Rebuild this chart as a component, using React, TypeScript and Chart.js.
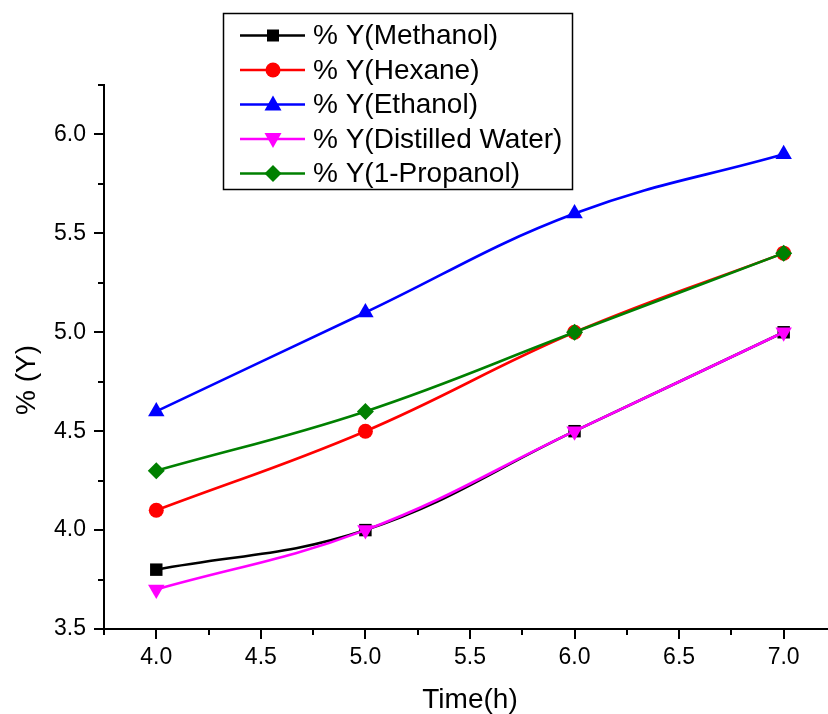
import React, { useEffect, useRef } from "react";
import { Chart, registerables } from "chart.js";

Chart.register(...registerables);

const timeH = [4.0, 5.0, 6.0, 7.0];
const methanol = [3.8, 4.0, 4.5, 5.0];
const hexane = [4.1, 4.5, 5.0, 5.4];
const ethanol = [4.6, 5.1, 5.6, 5.9];
const distilledWater = [3.7, 4.0, 4.5, 5.0];
const propanol = [4.3, 4.6, 5.0, 5.4];

const xTickLabels = [4.0, 4.5, 5.0, 5.5, 6.0, 6.5, 7.0];
const yTickLabels = [3.5, 4.0, 4.5, 5.0, 5.5, 6.0];

const seriesLabels = [
  "% Y(Methanol)",
  "% Y(Hexane)",
  "% Y(Ethanol)",
  "% Y(Distilled Water)",
  "% Y(1-Propanol)",
];
const seriesColors = ["#000000", "#ff0000", "#0000ff", "#ff00ff", "#008000"];
const seriesShapes = ["square", "circle", "triangle", "triangleDown", "diamond"];
const seriesValues = [methanol, hexane, ethanol, distilledWater, propanol];

const xTitle = "Time(h)";
const yTitle = "% (Y)";
const FONT = "Arial, 'Liberation Sans', sans-serif";

function shapeToStyle(s: string) {
  switch (s) {
    case "square":
      return { pointStyle: "rect", radius: 8.8, rotation: 0 };
    case "circle":
      return { pointStyle: "circle", radius: 7.5, rotation: 0 };
    case "triangle":
      return { pointStyle: "triangle", radius: 9.5, rotation: 0 };
    case "triangleDown":
      return { pointStyle: "triangle", radius: 9.5, rotation: 180 };
    default:
      return { pointStyle: "rectRot", radius: 8.5, rotation: 0 };
  }
}

function drawMarker(ctx: CanvasRenderingContext2D, shape: string, x: number, y: number, color: string) {
  ctx.save();
  ctx.fillStyle = color;
  ctx.beginPath();
  if (shape === "square") {
    ctx.rect(x - 6, y - 6, 12, 12);
  } else if (shape === "circle") {
    ctx.arc(x, y, 7.5, 0, Math.PI * 2);
  } else if (shape === "triangle") {
    ctx.moveTo(x, y - 9);
    ctx.lineTo(x + 8.5, y + 6);
    ctx.lineTo(x - 8.5, y + 6);
  } else if (shape === "triangleDown") {
    ctx.moveTo(x, y + 9);
    ctx.lineTo(x + 8.5, y - 6);
    ctx.lineTo(x - 8.5, y - 6);
  } else {
    ctx.moveTo(x, y - 8.5);
    ctx.lineTo(x + 8.5, y);
    ctx.lineTo(x, y + 8.5);
    ctx.lineTo(x - 8.5, y);
  }
  ctx.closePath();
  ctx.fill();
  ctx.restore();
}

const decorPlugin = {
  id: "decor",
  afterDraw(chart: any) {
    const ctx: CanvasRenderingContext2D = chart.ctx;
    const xs = chart.scales.x;
    const ys = chart.scales.y;
    const area = chart.chartArea;
    ctx.save();
    ctx.strokeStyle = "#000";
    ctx.lineWidth = 2;
    // y ticks
    for (let v = ys.min; v <= ys.max + 1e-6; v += 0.25) {
      const p = Math.round(ys.getPixelForValue(v));
      const major = Math.abs(v * 2 - Math.round(v * 2)) < 1e-6;
      ctx.beginPath();
      ctx.moveTo(area.left, p);
      ctx.lineTo(area.left - (major ? 10 : 6), p);
      ctx.stroke();
    }
    // x ticks
    for (let v = 3.75; v <= xs.max + 1e-6; v += 0.25) {
      const p = Math.round(xs.getPixelForValue(v));
      const major = Math.abs(v * 2 - Math.round(v * 2)) < 1e-6;
      ctx.beginPath();
      ctx.moveTo(p, area.bottom);
      ctx.lineTo(p, area.bottom + (major ? 10 : 6));
      ctx.stroke();
    }
    // x tick labels
    ctx.fillStyle = "#000";
    ctx.font = `23px ${FONT}`;
    ctx.textAlign = "center";
    ctx.textBaseline = "top";
    for (const v of xTickLabels) {
      ctx.fillText(v.toFixed(1), xs.getPixelForValue(v), area.bottom + 17);
    }
    // axis titles
    ctx.font = `28px ${FONT}`;
    ctx.textAlign = "center";
    ctx.textBaseline = "middle";
    ctx.fillText(xTitle, 470, 700);
    ctx.save();
    ctx.translate(27, 380);
    ctx.rotate(-Math.PI / 2);
    ctx.fillText(yTitle, 0, 0);
    ctx.restore();

    // legend
    ctx.fillStyle = "#fff";
    ctx.fillRect(223.5, 13.5, 349, 176);
    ctx.lineWidth = 1.5;
    ctx.strokeStyle = "#000";
    ctx.strokeRect(223.5, 13.5, 349, 176);
    const rowY = [35.5, 70, 104.5, 139, 173.5];
    ctx.font = `28px ${FONT}`;
    ctx.textAlign = "left";
    for (let i = 0; i < seriesLabels.length; i++) {
      const y = rowY[i];
      ctx.strokeStyle = seriesColors[i];
      ctx.lineWidth = 2.5;
      ctx.beginPath();
      ctx.moveTo(240, y);
      ctx.lineTo(305, y);
      ctx.stroke();
      drawMarker(ctx, seriesShapes[i], 273, y, seriesColors[i]);
      ctx.fillStyle = "#000";
      ctx.fillText(seriesLabels[i], 313, y + 1);
    }
    ctx.restore();
  },
};

export default function App() {
  const ref = useRef<HTMLCanvasElement | null>(null);
  useEffect(() => {
    if (!ref.current) return;
    const datasets = seriesLabels.map((label, i) => {
      const st = shapeToStyle(seriesShapes[i]);
      return {
        label,
        data: timeH.map((x, j) => ({ x, y: seriesValues[i][j] })),
        borderColor: seriesColors[i],
        backgroundColor: seriesColors[i],
        borderWidth: 2.6,
        pointStyle: st.pointStyle,
        pointRadius: st.radius,
        pointRotation: st.rotation,
        pointBorderWidth: 0,
        pointBackgroundColor: seriesColors[i],
        tension: 0.4,
        order: seriesLabels.length - i,
        clip: false,
      };
    });
    const chart = new Chart(ref.current, {
      type: "line",
      data: { datasets } as any,
      options: {
        animation: false,
        responsive: false,
        devicePixelRatio: 1,
        layout: { autoPadding: false, padding: { top: 85, left: 0, right: 0, bottom: 0 } },
        plugins: { legend: { display: false }, tooltip: { enabled: false } },
        scales: {
          x: {
            type: "linear",
            min: 3.75,
            max: 7.212,
            afterFit: (s: any) => {
              s.height = 85;
            },
            grid: { display: false },
            border: { display: true, color: "#000", width: 2 },
            ticks: { display: false },
          },
          y: {
            type: "linear",
            min: 3.5,
            max: 6.25,
            afterBuildTicks: (s: any) => {
              s.ticks = yTickLabels.map((v) => ({ value: v }));
            },
            afterFit: (s: any) => {
              s.width = 104;
            },
            grid: { display: true, drawOnChartArea: false, drawTicks: false, color: "rgba(0,0,0,0)" },
            border: { display: true, color: "#000", width: 2 },
            ticks: {
              padding: 18,
              color: "#000",
              font: { size: 23, family: FONT },
              autoSkip: false,
              callback: (v: any) => Number(v).toFixed(1),
            },
          },
        },
      } as any,
      plugins: [decorPlugin],
    });
    return () => chart.destroy();
  }, []);
  return (
    <div style={{ position: "absolute", left: 0, top: 0, width: 828, height: 714, background: "#fff" }}>
      <canvas ref={ref} width={828} height={714} style={{ width: 828, height: 714, display: "block" }} />
    </div>
  );
}
